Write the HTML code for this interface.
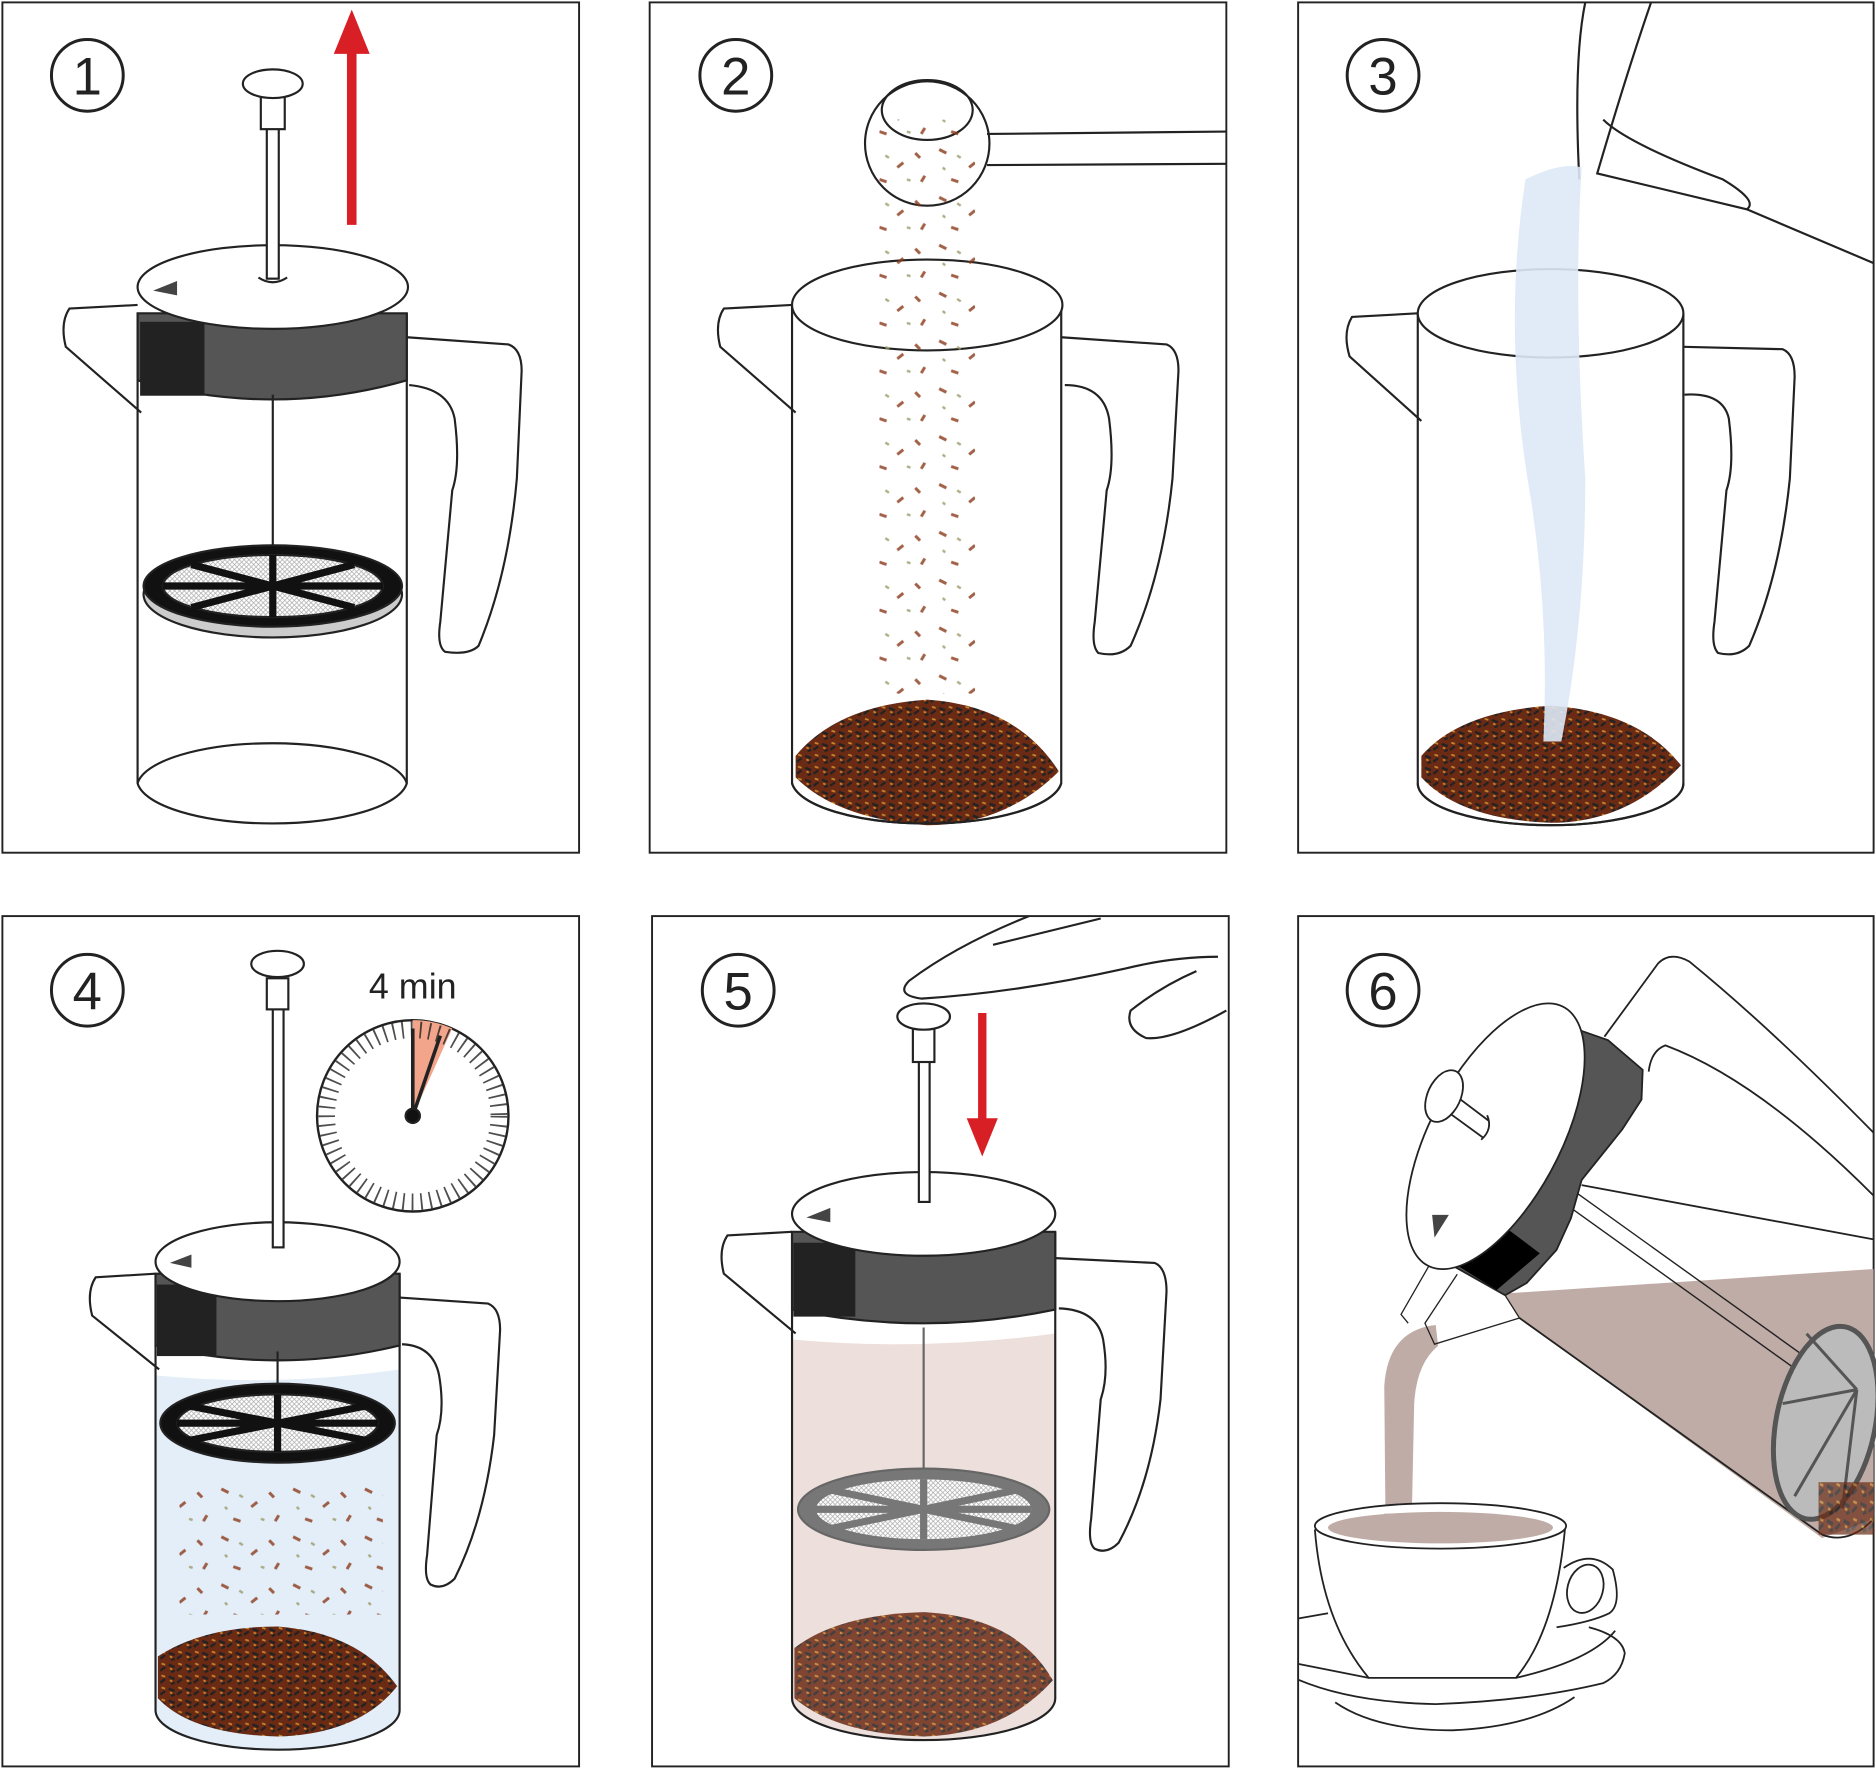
<!DOCTYPE html>
<html><head><meta charset="utf-8"><style>
html,body{margin:0;padding:0;background:#fff}
svg{display:block}
text{font-family:"Liberation Sans",sans-serif}
.ns *{vector-effect:non-scaling-stroke}
</style></head><body>
<svg width="1876" height="1770" viewBox="0 0 1568 1480" preserveAspectRatio="none" xmlns="http://www.w3.org/2000/svg">
<defs>
<pattern id="tea" width="14" height="10" patternUnits="userSpaceOnUse">
<rect width="14" height="10" fill="#6b2a14"/>
<path d="M1 2l5 2M8 7l4-3M3 8l3-1" stroke="#222" stroke-width="2"/>
<path d="M9 1l3 1M2 5l2 1" stroke="#c8862e" stroke-width="1.5"/>
</pattern>
<pattern id="mesh" width="4" height="4" patternUnits="userSpaceOnUse">
<rect width="4" height="4" fill="#fff"/><path d="M0 0l4 4M4 0l-4 4" stroke="#aaa" stroke-width="0.6"/>
</pattern>
<pattern id="bits" width="60" height="40" patternUnits="userSpaceOnUse">
<path d="M5 5l6 3M30 20l5-4M45 8l4 4M15 30l6 2M50 32l3-5" stroke="#8a3a1a" stroke-width="2.5"/>
<path d="M20 10l3 2M38 30l3 1M8 20l2 2" stroke="#9a9a6a" stroke-width="2"/>
</pattern>
</defs>
<g fill="none" stroke="#222" stroke-width="1.6">
<rect x="2" y="2" width="482" height="711"/>
<rect x="543" y="2" width="482" height="711"/>
<rect x="1085" y="2" width="481" height="711"/>
<rect x="2" y="766" width="482" height="711"/>
<rect x="545" y="766" width="482" height="711"/>
<rect x="1085" y="766" width="481" height="711"/>
</g>
<g fill="none" stroke="#222" stroke-width="2.5">
<circle cx="73" cy="63" r="30"/><circle cx="615" cy="63" r="30"/><circle cx="1156" cy="63" r="30"/>
<circle cx="73" cy="828" r="30"/><circle cx="617" cy="828" r="30"/><circle cx="1156" cy="828" r="30"/>
</g>
<g font-size="44" text-anchor="middle" fill="#222">
<text x="73" y="79">1</text><text x="615" y="79">2</text><text x="1156" y="79">3</text>
<text x="73" y="844">4</text><text x="617" y="844">5</text><text x="1156" y="844">6</text>
</g>

<!-- Panel 1 -->
<g stroke="#222" stroke-width="1.8" fill="none">
<path d="M340 282 L425 288 Q436 292 436 310 L432 400 Q425 480 400 540 Q392 548 372 545 Q365 540 368 520 L378 410 Q385 390 380 350 Q375 325 342 322"/>
<path d="M115 255 L58 258 Q50 270 55 290 L118 345"/>
<path d="M115 262 L115 655 A113 37 0 0 0 340 655 L340 262"/>
<path d="M115 655 A113 37 0 0 1 340 655"/>
<path d="M115 262 L115 318 Q228 350 340 318 L340 262 Z" fill="#555"/>
<rect x="118" y="270" width="52" height="60" fill="#222"/>
<ellipse cx="228" cy="240" rx="113" ry="35" fill="#fff"/>
<path d="M128 243l20-8 0 12z" fill="#444" stroke="none"/>
<line x1="228" y1="330" x2="228" y2="480"/>
<ellipse cx="228" cy="497" rx="108" ry="36" fill="#ccc"/>
<ellipse cx="228" cy="490" rx="108" ry="34" fill="#111"/>
<ellipse cx="228" cy="490" rx="92" ry="26" fill="url(#mesh)"/>
<path d="M136 490H320M228 464V516M160 472L296 508M160 508L296 472" stroke="#111" stroke-width="6"/>
<rect x="223" y="80" width="10" height="153" fill="#fff"/>
<path d="M216 232 Q228 240 240 232" />
<rect x="218" y="80" width="20" height="28" fill="#fff"/>
<ellipse cx="228" cy="70" rx="25" ry="12" fill="#fff"/>
</g>
<path d="M294 188V40" stroke="#d81f26" stroke-width="8"/>
<path d="M279 45L294 8L309 45Z" fill="#d81f26"/>

<!-- Panel 2 -->
<g stroke="#222" stroke-width="1.8" fill="none">
<path d="M887 282 L975 288 Q985 292 985 310 L980 400 Q972 480 945 540 Q935 550 918 546 Q912 540 915 520 L925 410 Q932 390 927 350 Q922 322 890 322"/>
<path d="M662 255 L605 258 Q597 270 602 290 L665 345"/>
<path d="M662 255 L662 655 A113 37 0 0 0 887 655 L887 255"/>
<ellipse cx="775" cy="255" rx="113" ry="38" fill="#fff"/>
<path d="M665 632 Q700 590 775 585 Q850 590 885 645 Q840 690 775 690 Q700 685 665 650Z" fill="url(#tea)" stroke="none"/>
<path d="M662 655 A113 37 0 0 0 887 655"/>
<circle cx="775" cy="120" r="52" fill="#fff"/>
<path d="M825 112 L1025 110 M825 138 L1025 137"/>
<ellipse cx="775" cy="92" rx="38" ry="25"/>
</g>
<rect x="735" y="100" width="80" height="480" fill="url(#bits)" opacity="0.8"/>

<!-- Panel 3 -->
<g stroke="#222" stroke-width="1.8" fill="none">
<path d="M1407 290 L1490 292 Q1500 296 1500 315 L1496 400 Q1488 480 1462 540 Q1452 550 1436 546 Q1430 540 1433 520 L1443 410 Q1450 390 1445 350 Q1440 328 1408 330"/>
<path d="M1185 262 L1130 265 Q1122 278 1128 298 L1188 352"/>
<path d="M1185 262 L1185 655 A111 35 0 0 0 1407 655 L1407 262"/>
<ellipse cx="1296" cy="262" rx="111" ry="37" fill="#fff"/>
<path d="M1188 632 Q1220 595 1296 590 Q1370 595 1405 640 Q1360 688 1296 688 Q1220 685 1188 650Z" fill="url(#tea)" stroke="none"/>
<path d="M1185 655 A111 35 0 0 0 1407 655"/>
<path d="M1325 2 Q1315 50 1320 150 M1380 2 Q1360 60 1335 145 L1460 175 Q1470 168 1440 150 Q1360 120 1340 100 M1460 175 L1566 220"/>
</g>
<path d="M1275 150 Q1305 135 1322 140 Q1315 250 1325 400 Q1325 520 1305 620 L1290 620 Q1295 520 1280 420 Q1255 280 1275 150Z" fill="#dde9f6" opacity="0.9"/>

<!-- Panel 4 -->
<g stroke="#222" stroke-width="1.8" fill="none">
<path d="M334 1085 L408 1090 Q418 1094 418 1112 L413 1200 Q405 1270 380 1320 Q370 1330 360 1325 Q354 1320 357 1300 L365 1200 Q372 1180 367 1150 Q362 1125 336 1124"/>
<path d="M130 1065 L80 1068 Q72 1080 77 1100 L133 1145"/>
<path d="M130 1150 Q232 1160 334 1145 L334 1430 A102 33 0 0 1 130 1430Z" fill="#e4eef8" stroke="none"/>
<path d="M132 1385 Q170 1360 232 1360 Q300 1365 332 1410 Q300 1450 232 1452 Q160 1450 132 1420Z" fill="url(#tea)" stroke="none"/>
<rect x="150" y="1240" width="170" height="110" fill="url(#bits)" stroke="none" opacity="0.8"/>
<path d="M130 1065 L130 1430 A102 33 0 0 0 334 1430 L334 1065"/>
<path d="M130 1065 L130 1125 Q232 1150 334 1125 L334 1065 Z" fill="#555"/>
<rect x="132" y="1075" width="48" height="58" fill="#222"/>
<ellipse cx="232" cy="1055" rx="102" ry="33" fill="#fff"/>
<path d="M142 1056l18-7 0 11z" fill="#444" stroke="none"/>
<line x1="232" y1="1130" x2="232" y2="1180"/>
<ellipse cx="232" cy="1190" rx="98" ry="33" fill="#111"/>
<ellipse cx="232" cy="1190" rx="84" ry="24" fill="url(#mesh)"/>
<path d="M148 1190H316M232 1166V1214M155 1175L309 1205M155 1205L309 1175" stroke="#111" stroke-width="6"/>
<rect x="228" y="840" width="9" height="203" fill="#fff"/>
<rect x="223" y="818" width="18" height="26" fill="#fff"/>
<ellipse cx="232" cy="806" rx="22" ry="11" fill="#fff"/>
<circle cx="345" cy="933" r="80" stroke-width="2"/>
<path d="M345 933 L345 853 A80 80 0 0 1 378 860Z" fill="#f2a58a" stroke="none"/>
<line x1="345" y1="933" x2="345" y2="860" stroke-width="3"/>
<line x1="345" y1="933" x2="368" y2="866" stroke-width="3"/>
<circle cx="345" cy="933" r="6" fill="#111"/>
<circle cx="345" cy="933" r="72" stroke-dasharray="1.5 6" stroke-width="14" opacity="0.8"/>
</g>
<text x="345" y="835" font-size="30" text-anchor="middle" fill="#222">4 min</text>

<!-- Panel 5 -->
<g stroke="#222" stroke-width="1.8" fill="none">
<path d="M882 1052 L965 1056 Q975 1060 975 1080 L970 1170 Q962 1240 935 1290 Q925 1300 915 1295 Q909 1290 912 1270 L920 1170 Q927 1150 922 1120 Q917 1095 885 1094"/>
<path d="M662 1030 L608 1033 Q600 1045 605 1065 L665 1115"/>
<path d="M662 1120 Q772 1130 882 1115 L882 1420 A110 35 0 0 1 662 1420Z" fill="#ede0dc" stroke="none"/>
<path d="M664 1378 Q700 1350 772 1348 Q850 1352 880 1405 Q840 1450 772 1452 Q700 1450 664 1420Z" fill="url(#tea)" stroke="none" opacity="0.85"/>
<path d="M662 1030 L662 1420 A110 35 0 0 0 882 1420 L882 1030"/>
<path d="M662 1030 L662 1095 Q772 1118 882 1095 L882 1030 Z" fill="#555"/>
<rect x="664" y="1040" width="50" height="60" fill="#222"/>
<ellipse cx="772" cy="1015" rx="110" ry="35" fill="#fff"/>
<path d="M674 1018l20-8 0 12z" fill="#444" stroke="none"/>
<line x1="772" y1="1110" x2="772" y2="1255" stroke="#666"/>
<ellipse cx="772" cy="1262" rx="105" ry="34" fill="#777" stroke="#666"/>
<ellipse cx="772" cy="1262" rx="90" ry="25" fill="url(#mesh)" stroke="none"/>
<path d="M682 1262H862M772 1237V1287M690 1245L854 1279M690 1279L854 1245" stroke="#777" stroke-width="6"/>
<rect x="768" y="885" width="9" height="120" fill="#fff"/>
<rect x="763" y="860" width="18" height="28" fill="#fff"/>
<ellipse cx="772" cy="850" rx="22" ry="11" fill="#fff"/>
<path d="M860 766 Q800 790 760 820 Q748 832 770 835 Q850 830 940 810 Q980 800 1018 800 M920 768 L830 790 M1025 845 Q980 870 958 868 Q940 860 945 845 Q970 825 1000 812"/>
</g>
<path d="M821 847V940" stroke="#d81f26" stroke-width="7"/>
<path d="M808 935L821 967L834 935Z" fill="#d81f26"/>

<!-- Panel 6 -->
<g class="ns" transform="translate(0 766) scale(1 1.461) translate(0 -766)" stroke="#222" stroke-width="1.8" fill="none">
<path d="M1341 835 L1386 793 Q1396 786 1412 792 Q1480 830 1566 890"/>
<path d="M1378 855 Q1380 843 1392 840 Q1470 860 1566 926"/>
<path d="M1258 982 L1566 968 L1566 1111 L1523 1122 L1270 996 Z" fill="#bfaca6" stroke="none"/>
<path d="M1200 1000 Q1160 1003 1157 1035 L1158 1110 L1180 1110 L1182 1045 Q1184 1022 1202 1012 Z" fill="#bfaca6" stroke="none"/>
<path d="M1322 920 L1566 951"/>
<path d="M1270 996 L1523 1120 Q1545 1126 1566 1111"/>
<path d="M1319 925 L1547 1037 M1313 933 L1545 1047" stroke-width="1.4"/>
<ellipse cx="1526" cy="1056" rx="40" ry="58" transform="rotate(25 1526 1056)" fill="#bbb" stroke="#555" stroke-width="5"/>
<path d="M1552 1037 L1500 1098 M1552 1037 L1510 1005 M1552 1037 L1490 1045 M1552 1037 L1540 1105" stroke="#555" stroke-width="3"/>
<rect x="1520" y="1090" width="46" height="30" fill="url(#tea)" stroke="none" opacity="0.7"/>
<path d="M1197 963 L1171 994 L1177 999 M1218 971 L1191 999 L1199 1011 L1270 996 L1258 983" stroke-width="1.3"/>
<path d="M1319 831 L1344 837 L1373 854 L1372 871 L1356 888 L1322 917 L1313 939 L1301 957 L1276 976 L1258 983 L1214 966 L1196 959 Z" fill="#555"/>
<path d="M1254 942 L1287 959 L1251 980 L1218 966 Z" fill="#000" stroke="none"/>
<ellipse cx="1250" cy="892" rx="95" ry="48" transform="rotate(-46 1250 892)" fill="#fff"/>
<path d="M1197 937 L1211 937 L1199 950 Z" fill="#444" stroke="none"/>
<path d="M1215 868 L1244 883 M1210 878 L1240 893 M1243 880 Q1248 888 1238 894"/>
<ellipse cx="1207" cy="869" rx="18" ry="12" transform="rotate(-40 1207 869)" fill="#fff"/>
<path d="M1307 1139 Q1330 1128 1348 1140 Q1356 1160 1345 1165 Q1330 1170 1301 1173"/>
<ellipse cx="1325" cy="1151" rx="16" ry="13" transform="rotate(-30 1325 1151)"/>
<path d="M1099 1117 Q1105 1170 1144 1202 L1267 1202 Q1300 1175 1308 1117" fill="#fff"/>
<ellipse cx="1204" cy="1115" rx="105" ry="13" fill="#fff"/>
<ellipse cx="1204" cy="1116" rx="94" ry="9" fill="#bfaca6" stroke="none"/>
<path d="M1157 1108 L1158 1118 L1180 1118 L1180 1108 Z" fill="#bfaca6" stroke="none"/>
<path d="M1085 1168 L1110 1165"/>
<path d="M1085 1194 L1144 1202 M1267 1202 Q1330 1192 1350 1175"/>
<path d="M1328 1173 Q1356 1178 1358 1188 Q1355 1200 1340 1205 Q1280 1215 1200 1217 Q1130 1216 1085 1203"/>
<path d="M1116 1216 Q1150 1232 1214 1232 Q1280 1230 1316 1213"/>
</g>
</svg>
</body></html>
